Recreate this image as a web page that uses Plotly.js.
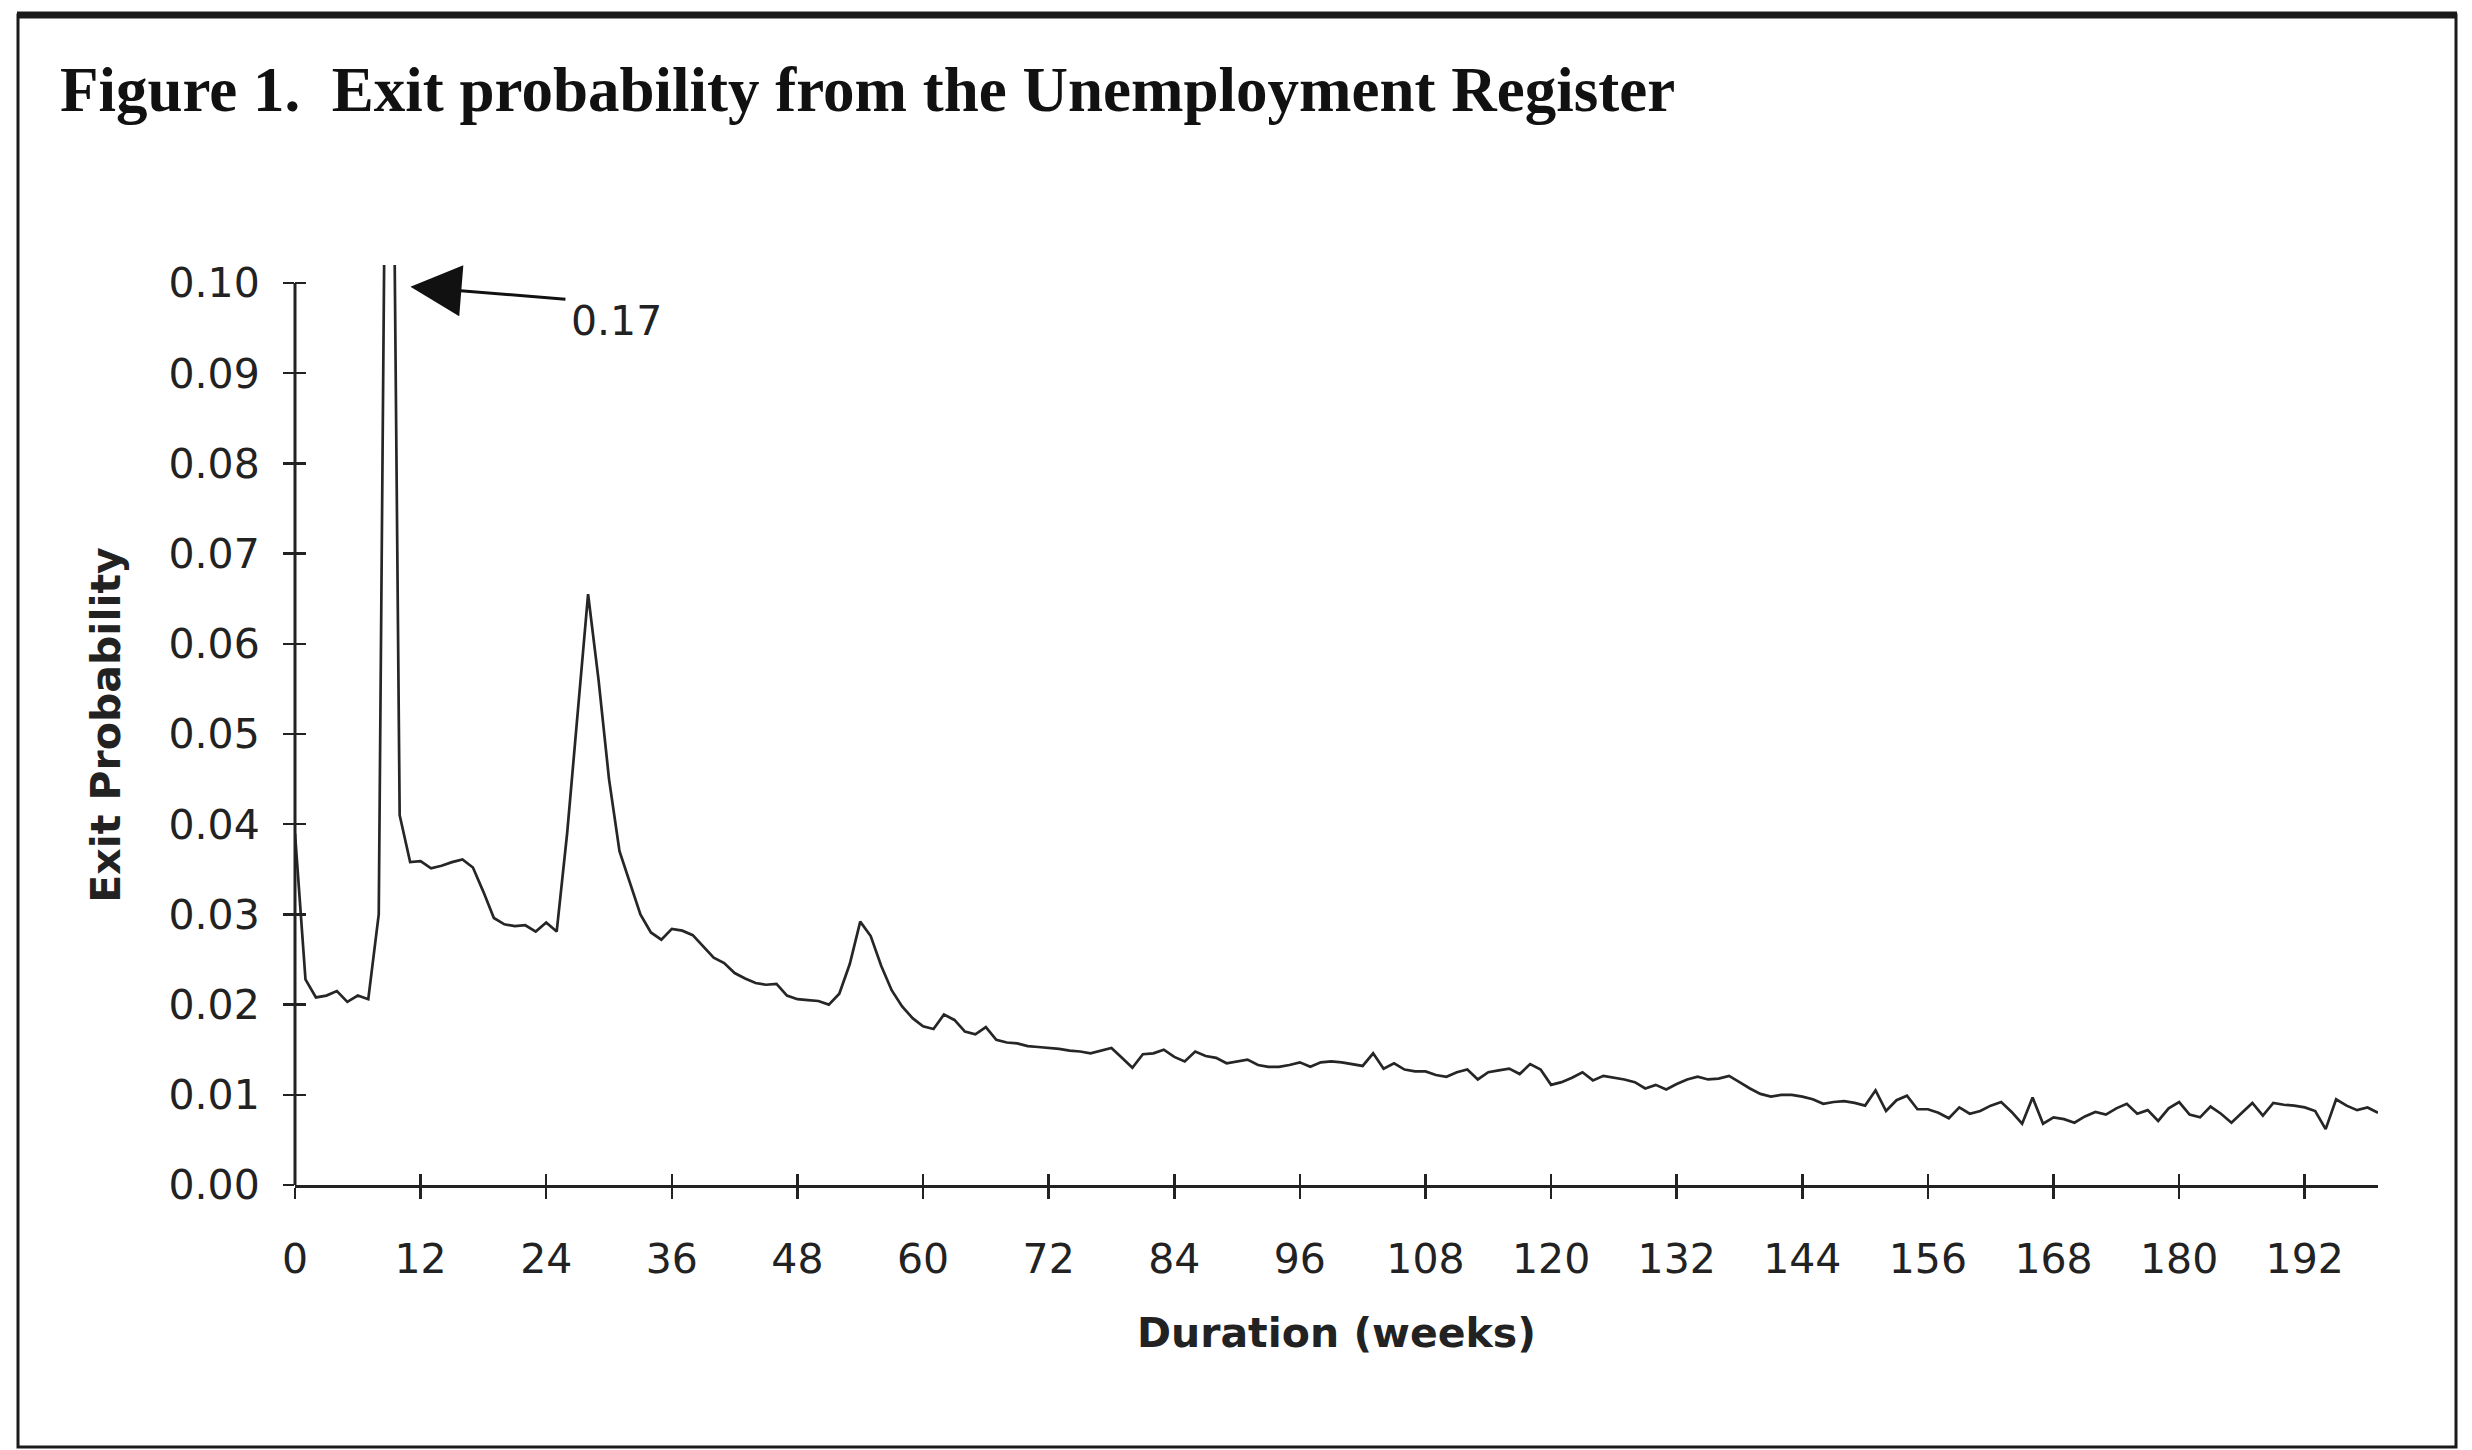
<!DOCTYPE html>
<html>
<head>
<meta charset="utf-8">
<script src="https://cdn.plot.ly/plotly-3.0.1.min.js"></script>
<style>
  html, body { margin: 0; padding: 0; background: #ffffff; }
  #chart { width: 2472px; height: 1450px; }
</style>
</head>
<body>
<div id="chart"></div>
<script>
// ---- data ----
const weeks = [];
for (let i = 0; i < 200; i++) weeks.push(i);

const exitProbability = [
  0.0390, 0.0228, 0.0208, 0.0210, 0.0215, 0.0203, 0.0210, 0.0206, 0.0300, 0.1700,
  0.0410, 0.0358, 0.0359, 0.0351, 0.0354, 0.0358, 0.0361, 0.0352, 0.0325, 0.0296,
  0.0289, 0.0287, 0.0288, 0.0281, 0.0291, 0.0281, 0.0390, 0.0520, 0.0655, 0.0560,
  0.0450, 0.0370, 0.0335, 0.0300, 0.0280, 0.0272, 0.0284, 0.0282, 0.0277, 0.0265,
  0.0252, 0.0246, 0.0235, 0.0229, 0.0224, 0.0222, 0.0223, 0.0210, 0.0206, 0.0205,
  0.0204, 0.0200, 0.0212, 0.0245, 0.0292, 0.0276, 0.0243, 0.0216, 0.0198, 0.0185,
  0.0176, 0.0173, 0.0189, 0.0183, 0.0170, 0.0167, 0.0175, 0.0161, 0.0158, 0.0157,
  0.0154, 0.0153, 0.0152, 0.0151, 0.0149, 0.0148, 0.0146, 0.0149, 0.0152, 0.0141,
  0.0130, 0.0145, 0.0146, 0.0150, 0.0142, 0.0137, 0.0148, 0.0143, 0.0141, 0.0135,
  0.0137, 0.0139, 0.0133, 0.0131, 0.0131, 0.0133, 0.0136, 0.0131, 0.0136, 0.0137,
  0.0136, 0.0134, 0.0132, 0.0146, 0.0129, 0.0135, 0.0128, 0.0126, 0.0126, 0.0122,
  0.0120, 0.0125, 0.0128, 0.0117, 0.0125, 0.0127, 0.0129, 0.0123, 0.0134, 0.0128,
  0.0111, 0.0114, 0.0119, 0.0125, 0.0116, 0.0121, 0.0119, 0.0117, 0.0114, 0.0107,
  0.0111, 0.0106, 0.0112, 0.0117, 0.0120, 0.0117, 0.0118, 0.0121, 0.0114, 0.0107,
  0.0101, 0.0098, 0.0100, 0.0100, 0.0098, 0.0095, 0.0090, 0.0092, 0.0093, 0.0091,
  0.0088, 0.0105, 0.0082, 0.0094, 0.0099, 0.0084, 0.0084, 0.0080, 0.0074, 0.0086,
  0.0079, 0.0082, 0.0088, 0.0092, 0.0081, 0.0068, 0.0097, 0.0068, 0.0075, 0.0073,
  0.0069, 0.0076, 0.0081, 0.0078, 0.0085, 0.0090, 0.0079, 0.0083, 0.0071, 0.0085,
  0.0092, 0.0078, 0.0075, 0.0087, 0.0079, 0.0069, 0.0080, 0.0091, 0.0077, 0.0091,
  0.0089, 0.0088, 0.0086, 0.0082, 0.0062, 0.0095, 0.0088, 0.0083, 0.0086, 0.0080
];

const xTickVals = [0, 12, 24, 36, 48, 60, 72, 84, 96, 108, 120, 132, 144, 156, 168, 180, 192];
const xTickText = ['0', '12', '24', '36', '48', '60', '72', '84', '96', '108', '120', '132', '144', '156', '168', '180', '192'];
const yTickVals = [0, 0.01, 0.02, 0.03, 0.04, 0.05, 0.06, 0.07, 0.08, 0.09, 0.10];
const yTickText = ['0.00', '0.01', '0.02', '0.03', '0.04', '0.05', '0.06', '0.07', '0.08', '0.09', '0.10'];

const titleText = 'Figure 1.  Exit probability from the Unemployment Register';
const xTitle = 'Duration (weeks)';
const yTitle = 'Exit Probability';

// ---- chart ----
const W = 2472, H = 1450;
const M = { l: 295, r: 94, t: 265, b: 265 };
const plotW = W - M.l - M.r, plotH = H - M.t - M.b;
const px = X => (X - M.l) / plotW;          // page pixel -> paper x
const py = Y => (H - M.b - Y) / plotH;      // page pixel -> paper y

const ink = '#222222';
const tickFont = { family: 'DejaVu Sans, sans-serif', size: 41, color: ink };
const titleFont = { family: 'DejaVu Sans, sans-serif', size: 41, color: ink, weight: 700 };

const peakValue = Math.max.apply(null, exitProbability);

const traces = [
  {
    type: 'scatter', mode: 'lines',
    x: weeks, y: exitProbability,
    line: { color: '#262626', width: 2.7 },
    hoverinfo: 'x+y', showlegend: false
  },
  { type: 'scatter', mode: 'lines', x: [], y: [], xaxis: 'x2', yaxis: 'y2', showlegend: false, hoverinfo: 'skip' }
];

const layout = {
  width: W, height: H,
  margin: M,
  paper_bgcolor: '#ffffff', plot_bgcolor: '#ffffff',
  showlegend: false,
  title: {
    text: titleText,
    font: { family: 'Liberation Serif, Times New Roman, serif', size: 63, color: '#111111', weight: 700 },
    xref: 'container', yref: 'container',
    x: 60 / W, xanchor: 'left',
    y: 1 - 89 / H, yanchor: 'middle'
  },
  xaxis: {
    range: [0, 199], fixedrange: true,
    showgrid: false, zeroline: false,
    showline: true, linecolor: ink, linewidth: 3,
    tickmode: 'array', tickvals: xTickVals, ticktext: xTickText,
    ticks: 'outside', ticklen: 11, tickwidth: 2.5, tickcolor: ink,
    tickfont: tickFont, ticklabelstandoff: 25,
    title: { text: xTitle, font: titleFont, standoff: 37 },
    automargin: false
  },
  yaxis: {
    range: [0, 0.102], fixedrange: true,
    showgrid: false, zeroline: false,
    showline: false,
    tickmode: 'array', tickvals: yTickVals, ticktext: yTickText,
    ticks: 'outside', ticklen: 11, tickwidth: 2.5, tickcolor: ink,
    tickfont: tickFont, ticklabelstandoff: 15,
    title: { text: yTitle, font: titleFont, standoff: 35 },
    automargin: false
  },
  xaxis2: {
    overlaying: 'x', anchor: 'y2', range: [0, 199], fixedrange: true,
    showgrid: false, zeroline: false, showline: false,
    tickmode: 'array', tickvals: xTickVals,
    ticks: 'inside', ticklen: 11, tickwidth: 2.5, tickcolor: ink,
    showticklabels: false
  },
  yaxis2: {
    overlaying: 'y', anchor: 'x2', side: 'left', range: [0, 0.102], fixedrange: true,
    showgrid: false, zeroline: false, showline: false,
    tickmode: 'array', tickvals: yTickVals,
    ticks: 'inside', ticklen: 11, tickwidth: 2.5, tickcolor: ink,
    showticklabels: false
  },
  shapes: [
    // y axis line, stopping at the top tick (0.10)
    { type: 'line', xref: 'paper', yref: 'y', x0: 0, x1: 0, y0: 0, y1: 0.10,
      line: { color: ink, width: 3 } },
    // figure frame
    { type: 'rect', xref: 'paper', yref: 'paper',
      x0: px(18), x1: px(2456), y0: py(1447), y1: py(15),
      line: { color: '#1a1a1a', width: 3 }, fillcolor: 'rgba(0,0,0,0)' },
    { type: 'line', xref: 'paper', yref: 'paper',
      x0: px(17), x1: px(2457), y0: py(15), y1: py(15),
      line: { color: '#1a1a1a', width: 7 } }
  ],
  annotations: [
    { // arrow pointing at the clipped spike
      x: 11.03, y: 0.0996, xref: 'x', yref: 'y',
      text: ' ', font: { size: 2 }, borderpad: 0,
      showarrow: true, arrowhead: 2, arrowsize: 3.4, arrowwidth: 3, arrowcolor: '#111111',
      ax: 156, ay: 12.6, axref: 'pixel', ayref: 'pixel', standoff: 0
    },
    { // value label of the spike
      x: 30.76, y: 0.0958, xref: 'x', yref: 'y',
      text: peakValue.toFixed(2), showarrow: false,
      font: tickFont, xanchor: 'center', yanchor: 'middle'
    }
  ]
};

Plotly.newPlot('chart', traces, layout, { staticPlot: true, displayModeBar: false });
</script>
</body>
</html>
